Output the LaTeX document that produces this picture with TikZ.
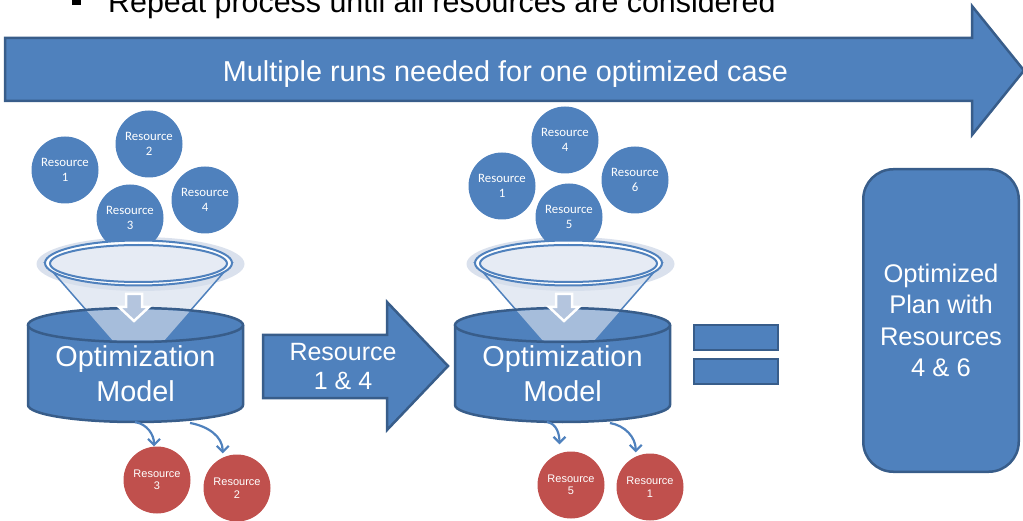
\documentclass[tikz,border=0pt]{standalone}
\usepackage{fontspec}
\setmainfont{Liberation Sans}
\newfontfamily\circfont{Carlito}
\usetikzlibrary{arrows.meta,calc}

\definecolor{bblue}{HTML}{4F81BD}
\definecolor{bdark}{HTML}{385D8A}
\definecolor{rred}{HTML}{C0504D}
\definecolor{halo}{HTML}{DAE1ED}
\definecolor{ringin}{HTML}{E6EBF4}
\definecolor{conetint}{HTML}{D5DEEC}
\definecolor{dropgray}{HTML}{B4C5DE}

\tikzset{
  blockarrow/.style={fill=bblue, draw=bdark, line width=2.5pt, line join=miter},
  bres/.style={circle, fill=bblue, minimum size=67pt, inner sep=0pt, text=white,
    align=center, font=\circfont\fontsize{12.8}{15}\selectfont},
  rres/.style={circle, fill=rred, minimum size=67pt, inner sep=0pt, text=white,
    align=center, font=\fontsize{11}{12.5}\selectfont},
  flow/.style={draw=bblue, line width=2.2pt, -{Straight Barb[length=6pt,width=12pt]}},
  whitelabel/.style={text=white, align=center, inner sep=0pt},
  eqbar/.style={draw=bdark, fill=bblue, line width=2.5pt, minimum width=84pt,
    minimum height=25pt, inner sep=0pt},
}

% halo behind the funnel mouth (#1 = funnel centre x)
\newcommand{\funnelhalo}[1]{%
  \fill[halo] ({#1+2},256) ellipse[x radius=104, y radius=27];
}

% funnel, cylinder and drop arrow (#1 = funnel centre x, #2 = cylinder centre x)
\newcommand{\funnelmodel}[2]{%
  \path[fill=conetint, fill opacity=0.65, draw=bblue, line width=1.5pt]
    ({#1-93.5},257) -- (#1,150) -- ({#1+93.5},257) -- cycle;
  \draw[bblue, line width=2pt, fill=white] (#1,257) ellipse[x radius=93.5, y radius=22.5];
  \draw[bblue, line width=2pt, fill=ringin] (#1,256.5) ellipse[x radius=88.5, y radius=18.5];
  \fill[bblue] ({#2-107.5},195) -- ({#2-107.5},115)
    arc[start angle=180, end angle=360, x radius=107.5, y radius=17] -- ({#2+107.5},195) -- cycle;
  \draw[bdark, line width=2.5pt] ({#2-107.5},195) -- ({#2-107.5},115)
    arc[start angle=180, end angle=360, x radius=107.5, y radius=17] -- ({#2+107.5},195);
  \draw[bdark, line width=2.5pt, fill=bblue] (#2,195) ellipse[x radius=107.5, y radius=17];
  \begin{scope}
    \clip (#2,195) ellipse[x radius=106, y radius=15.5];
    \fill[conetint, fill opacity=0.65] ({#1-93.5},257) -- (#1,150) -- ({#1+93.5},257) -- cycle;
  \end{scope}
  \draw[white, line width=2.5pt, fill=dropgray, line join=miter]
    ({#1-12.5},226) -- ({#1+3.5},226) -- ({#1+3.5},213) -- ({#1+10.5},213)
    -- ({#1-4.5},199) -- ({#1-19.5},213) -- ({#1-12.5},213) -- cycle;
}

\begin{document}
\begin{tikzpicture}[x=1pt,y=1pt]
\useasboundingbox (0,0) rectangle (1023,520);

% heading bullet line
\fill (71.5,514.5) rectangle (80.5,523.5);
\node[anchor=base west, inner sep=0pt, font=\fontsize{30.4}{36}\selectfont] (heading)
  at (108,507) {Repeat process until all resources are considered};

% long block arrow
\draw[blockarrow] (5,419) -- (972,419) -- (972,385) -- (1024,449.5)
  -- (972,514) -- (972,482) -- (5,482) -- cycle;
\node[whitelabel, anchor=base, font=\fontsize{28.8}{34}\selectfont] (runs)
  at (505.5,438) {Multiple runs needed for one optimized case};

% first run
\funnelhalo{138.5}
\node[bres] (a1) at (65,350) {Resource\\1};
\node[bres] (a2) at (149,376) {Resource\\2};
\node[bres] (a4) at (205,320) {Resource\\4};
\node[bres] (a3) at (130,302) {Resource\\3};
\funnelmodel{138.5}{135.5}
\node[whitelabel, font=\fontsize{28.8}{35}\selectfont] (modelA) at (135.5,146) {Optimization\\Model};
\node[rres] (ra3) at (157,40) {Resource\\3};
\node[rres] (ra2) at (237,32) {Resource\\2};
\coordinate (outA1) at (135,98);
\coordinate (outA2) at (190,97);
\draw[flow] (outA1) to[out=-10, in=90] (ra3.95);
\draw[flow] (outA2) to[out=-10, in=90] ($(ra2.115)+(0,4)$);

% hand-over arrow
\draw[blockarrow] (263,122) -- (387,122) -- (387,90) -- (448,154)
  -- (387,218) -- (387,185) -- (263,185) -- cycle;
\node[whitelabel, font=\fontsize{25}{29}\selectfont] (carry) at (343,153.6) {Resource\\1 \& 4};

% second run
\funnelhalo{568.5}
\node[bres] (b1) at (502,334) {Resource\\1};
\node[bres] (b4) at (565,380) {Resource\\4};
\node[bres] (b6) at (635,340) {Resource\\6};
\node[bres] (b5) at (569,303) {Resource\\5};
\funnelmodel{568.5}{562.5}
\node[whitelabel, font=\fontsize{28.8}{35}\selectfont] (modelB) at (562.5,146) {Optimization\\Model};
\node[rres] (rb5) at (571,35) {Resource\\5};
\node[rres] (rb1) at (650,33) {Resource\\1};
\coordinate (outB1) at (547,98);
\coordinate (outB2) at (610,97);
\draw[flow] (outB1) to[out=-10, in=90] ($(rb5.110)+(0,9)$);
\draw[flow] (outB2) to[out=-10, in=90] ($(rb1.115)+(0,4)$);

% equals sign
\node[eqbar] (eqtop) at (736,182.5) {};
\node[eqbar] (eqbot) at (736,148.5) {};

% result
\node[draw=bdark, fill=bblue, line width=2.5pt, rounded corners=30pt,
  minimum width=155.5pt, minimum height=302.5pt, inner sep=0pt,
  whitelabel, font=\fontsize{25.5}{31.3}\selectfont] (plan) at (941,199.5)
  {Optimized\\Plan with\\Resources\\4 \& 6};
\end{tikzpicture}
\end{document}
